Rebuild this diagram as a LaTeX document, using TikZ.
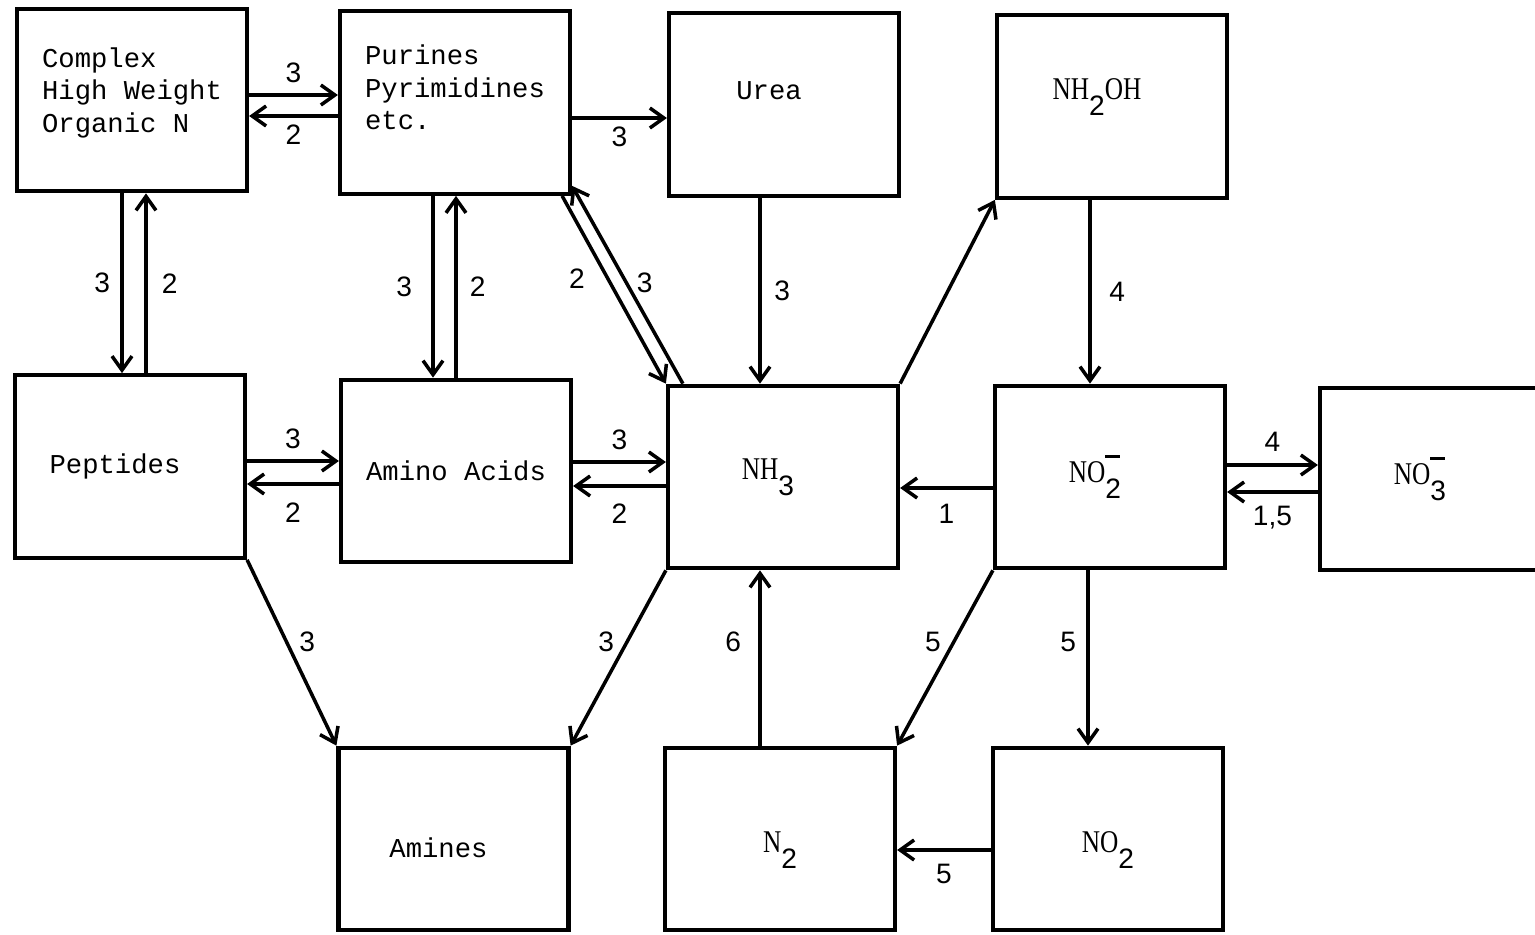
\documentclass[tikz,border=0pt]{standalone}
\usepackage{fontspec}
\setmainfont{Liberation Serif}
\setsansfont{Liberation Sans}
\setmonofont{Liberation Mono}
\newfontfamily\chemfont[FakeStretch=0.8]{Liberation Serif}
\usepackage{tikz}
\usetikzlibrary{arrows.meta}
\newcommand{\sub}[1]{\raisebox{-9pt}{\sffamily\fontsize{16}{16}\selectfont #1}}
\newcommand{\ionbar}{\rlap{\raisebox{14pt}{\rule{8pt}{1.5pt}}}}
\tikzset{
  pool/.style={draw, line width=2.4pt, minimum width=4.6cm, minimum height=3.65cm,
               align=left, font=\ttfamily\fontsize{15.5}{18.5}\selectfont},
  chem/.style={pool, font=\chemfont\fontsize{18}{20}\selectfont},
  lefttext/.style={execute at end node={\rule{6mm}{0pt}}},
  flow/.style={-{Straight Barb[length=2.8mm,width=4mm]}, line width=2pt},
  num/.style={font=\sffamily\fontsize{16}{16}\selectfont, inner sep=1.5pt},
}

\begin{document}
\begin{tikzpicture}
\useasboundingbox (0,0) rectangle (30.7,-18.7);

\node[pool, text depth=4mm] (cmplx) at (2.64,-2.00) {Complex\\High Weight\\Organic N};
\node[pool, text depth=6mm] (purin) at (9.10,-2.05) {Purines\\Pyrimidines\\etc.};
\node[pool, lefttext, text depth=5.5mm] (urea) at (15.68,-2.09) {Urea};
\node[chem, lefttext, text depth=7mm] (nhoh) at (22.24,-2.13) {NH\sub{2}OH};

\node[pool, lefttext] (pept) at (2.60,-9.33) {Peptides};
\node[pool] (amino) at (9.12,-9.42) {Amino Acids};
\node[chem, lefttext] (nhthree) at (15.66,-9.54) {NH\sub{3}};
\node[chem, lefttext] (nitri) at (22.20,-9.54) {NO\ionbar\sub{2}};
\node[chem, lefttext] (nitra) at (28.70,-9.58) {NO\ionbar\sub{3}};

\node[pool, lefttext, text height=7.5mm] (amine) at (9.07,-16.78) {Amines};
\node[chem, text height=8.5mm] (ntwo) at (15.60,-16.78) {N\sub{2}};
\node[chem, text height=8.5mm] (ndiox) at (22.16,-16.78) {NO\sub{2}};

% top row
\draw[flow] ([yshift=1mm]cmplx.east) -- ([yshift=1mm]cmplx.east -| purin.west)
  node[num, midway, above=1.6mm] {3};
\draw[flow] ([yshift=-2.7mm]purin.west) -- ([yshift=-2.7mm]purin.west -| cmplx.east)
  node[num, midway, below=0.8mm] {2};
\draw[flow] ([yshift=-3.1mm]purin.east) -- ([yshift=-3.1mm]purin.east -| urea.west)
  node[num, midway, below=0.8mm] {3};

% down from the top row
\draw[flow] ([xshift=-2mm]cmplx.south) -- ([xshift=-2mm]cmplx.south |- pept.north)
  node[num, midway, left=1.5mm] {3};
\draw[flow] ([xshift=3.2mm]pept.north) -- ([xshift=3.2mm]pept.north |- cmplx.south)
  node[num, midway, right=2.3mm] {2};
\draw[flow] ([xshift=-4.4mm]purin.south) -- ([xshift=-4.4mm]purin.south |- amino.north)
  node[num, midway, left=3.3mm] {3};
\draw[flow] (amino.north) -- (amino.north |- purin.south)
  node[num, midway, right=1.9mm] {2};
\draw[flow] ([xshift=-2mm]purin.south east) -- (nhthree.north west)
  node[num, pos=0.44, left=3.7mm] {2};
\draw[flow] ([xshift=3.4mm]nhthree.north west) -- ([yshift=2mm]purin.south east)
  node[num, pos=0.51, right=1.2mm] {3};
\draw[flow] ([xshift=-4.8mm]urea.south) -- ([xshift=-4.8mm]urea.south |- nhthree.north)
  node[num, midway, right=2mm] {3};
\draw[flow] (nhthree.north east) -- (nhoh.south west);
\draw[flow] ([xshift=-4.4mm]nhoh.south) -- ([xshift=-4.4mm]nhoh.south |- nitri.north)
  node[num, midway, right=3mm] {4};

% middle row
\draw[flow] ([yshift=1.1mm]pept.east) -- ([yshift=1.1mm]pept.east -| amino.west)
  node[num, midway, above=1.5mm] {3};
\draw[flow] ([yshift=-2.6mm]amino.west) -- ([yshift=-2.6mm]amino.west -| pept.east)
  node[num, midway, below=2.8mm] {2};
\draw[flow] ([yshift=1.8mm]amino.east) -- ([yshift=1.8mm]amino.east -| nhthree.west)
  node[num, midway, above=1.5mm] {3};
\draw[flow] ([yshift=-1.8mm]nhthree.west) -- ([yshift=-1.8mm]nhthree.west -| amino.east)
  node[num, midway, below=2.6mm] {2};
\draw[flow] ([yshift=-2.2mm]nitri.west) -- ([yshift=-2.2mm]nitri.west -| nhthree.east)
  node[num, midway, below=2.4mm] {1};
\draw[flow] ([yshift=2.4mm]nitri.east) -- ([yshift=2.4mm]nitri.east -| nitra.west)
  node[num, midway, above=1.9mm] {4};
\draw[flow] ([yshift=-2.6mm]nitra.west) -- ([yshift=-2.6mm]nitra.west -| nitri.east)
  node[num, midway, below=2mm] {1,5};

% down to the bottom row
\draw[flow] (pept.south east) -- (amine.north west)
  node[num, pos=0.44, right=1.7mm] {3};
\draw[flow] (nhthree.south west) -- (amine.north east)
  node[num, pos=0.41, left=1.7mm] {3};
\draw[flow] ([xshift=-4mm]ntwo.north) -- ([xshift=-4mm]ntwo.north |- nhthree.south)
  node[num, pos=0.59, left=2.9mm] {6};
\draw[flow] (nitri.south west) -- (ntwo.north east)
  node[num, pos=0.41, left=1.7mm] {5};
\draw[flow] ([xshift=-4.4mm]nitri.south) -- ([xshift=-4.4mm]nitri.south |- ndiox.north)
  node[num, pos=0.41, left=1.5mm] {5};
\draw[flow] ([yshift=-2.2mm]ndiox.west) -- ([yshift=-2.2mm]ndiox.west -| ntwo.east)
  node[num, midway, below=1.9mm] {5};

\end{tikzpicture}
\end{document}
